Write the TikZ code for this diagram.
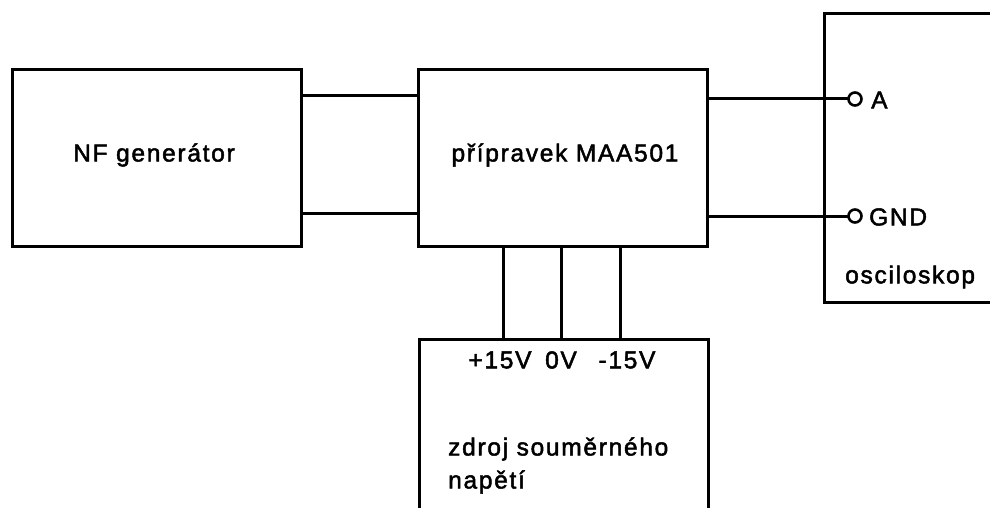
\documentclass[tikz,border=0pt]{standalone}
\usepackage{fontspec}
\setmainfont{Liberation Sans}[LetterSpace=7,FakeBold=2]
\begin{document}
\begin{tikzpicture}[x=1pt,y=-1pt,
  wire/.style={line width=3pt,line cap=rect},
  blk/.style={draw,line width=3pt,rectangle,inner sep=0pt,anchor=north west},
  term/.style={draw,circle,line width=2.6pt,fill=white,minimum size=13pt,inner sep=0pt},
  lbl/.style={inner sep=0pt,font=\fontsize{24.5}{29}\selectfont},
]
\useasboundingbox (0,0) rectangle (990,508);
\clip (0,0) rectangle (990,508);
% blocks
\node[blk,minimum width=289pt,minimum height=177pt] (gen) at (11,68) {};
\node[blk,minimum width=289pt,minimum height=177pt] (maa) at (417,68) {};
\node[blk,minimum width=200pt,minimum height=289pt] (osc) at (823,12) {};
\node[blk,minimum width=289pt,minimum height=200pt] (zdr) at (418,338) {};
% labels
\node[lbl] (tgen) at (154,155) {NF generátor};
\node[lbl] (tmaa) at (565,155) {přípravek MAA501};
\node[lbl,anchor=west] (tosc) at (845,277) {osciloskop};
\node[lbl] (tp) at (500,360) {+15V};
\node[lbl] (t0) at (561,360) {0V};
\node[lbl] (tm) at (627,360) {-15V};
\node[lbl,anchor=west] (tz1) at (448,449) {zdroj souměrného};
\node[lbl,anchor=west] (tz2) at (448,482) {napětí};
% terminals
\node[term] (ta) at (855,99) {};
\node[term] (tg) at (855,216) {};
\node[lbl,anchor=west] (la) at (871,100) {A};
\node[lbl,anchor=west] (lg) at (869,217) {GND};
% connectors gen -> maa
\draw[wire] (gen.east |- 0,96) -- (maa.west |- 0,96);
\draw[wire] (gen.east |- 0,213) -- (maa.west |- 0,213);
% maa -> osc
\draw[wire] (maa.east |- ta) -- (ta.west);
\draw[wire] (maa.east |- tg) -- (tg.west);
% maa -> supply
\draw[wire] (maa.south -| 503,0) -- (zdr.north -| 503,0);
\draw[wire] (maa.south -| 561,0) -- (zdr.north -| 561,0);
\draw[wire] (maa.south -| 620,0) -- (zdr.north -| 620,0);
\end{tikzpicture}
\end{document}
